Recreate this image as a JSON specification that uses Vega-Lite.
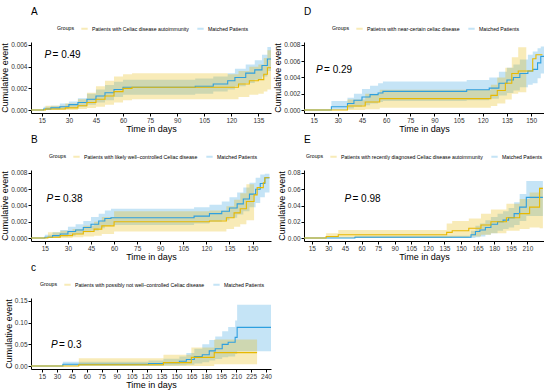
{
"$schema": "https://vega.github.io/schema/vega-lite/v6.json",
"padding": {"left": 0, "top": 7, "right": 0, "bottom": 0},
"background": "white",
"columns": 2,
"bounds": "flush",
"spacing": {"row": 57, "column": 33},
"resolve": {"scale": {"color": "independent"}, "legend": {"color": "independent"}},
"config": {
 "font": "Liberation Sans",
 "view": {"stroke": null},
 "axis": {"grid": false, "domainColor": "#000", "tickColor": "#000", "labelColor": "#333", "labelFontSize": 6.5, "titleFontSize": 9, "titleFontWeight": "normal", "titleColor": "#000", "tickSize": 3, "labelPadding": 1, "tickCount": 30, "labelOverlap": false},
 "axisY": {"titlePadding": 1},
 "axisX": {"titlePadding": 1},
 "legend": {"orient": "none", "direction": "horizontal", "titleOrient": "left", "titleFontSize": 5.2, "titleFontWeight": "normal", "labelFontSize": 5.2, "symbolType": "stroke", "symbolStrokeWidth": 2, "symbolSize": 40, "columnPadding": 4, "labelOffset": 3, "titlePadding": 5, "labelColor": "#000", "titleColor": "#000"},
 "title": {"anchor": "start", "frame": "group", "fontSize": 10, "fontWeight": "normal", "color": "#000", "offset": 7}
},
"datasets": {
 "A": [
  {"g":"M","t":0,"y":0,"lo":0,"hi":0},{"g":"M","t":14,"y":0,"lo":0,"hi":0},{"g":"M","t":16,"y":0.0001,"lo":0,"hi":0.0003},{"g":"M","t":20,"y":0.0002,"lo":0.00005,"hi":0.0004},{"g":"M","t":25,"y":0.0003,"lo":0.0001,"hi":0.0006},{"g":"M","t":30,"y":0.0005,"lo":0.0002,"hi":0.0008},{"g":"M","t":35,"y":0.0007,"lo":0.0003,"hi":0.0011},{"g":"M","t":40,"y":0.001,"lo":0.0005,"hi":0.0015},{"g":"M","t":45,"y":0.0013,"lo":0.0007,"hi":0.0019},{"g":"M","t":50,"y":0.0016,"lo":0.0009,"hi":0.0023},{"g":"M","t":55,"y":0.0019,"lo":0.0012,"hi":0.0026},{"g":"M","t":60,"y":0.0021,"lo":0.0014,"hi":0.0028},{"g":"M","t":100,"y":0.0022,"lo":0.0015,"hi":0.0029},{"g":"M","t":110,"y":0.0024,"lo":0.0017,"hi":0.0031},{"g":"M","t":118,"y":0.0027,"lo":0.0019,"hi":0.0034},{"g":"M","t":122,"y":0.003,"lo":0.0022,"hi":0.0038},{"g":"M","t":128,"y":0.0034,"lo":0.0025,"hi":0.0042},{"g":"M","t":133,"y":0.0037,"lo":0.0028,"hi":0.0046},{"g":"M","t":137,"y":0.0041,"lo":0.0031,"hi":0.0051},{"g":"M","t":140,"y":0.0047,"lo":0.0036,"hi":0.0058},{"g":"M","t":142,"y":0.0047,"lo":0.0036,"hi":0.0058},
  {"g":"P","t":0,"y":0,"lo":0,"hi":0},{"g":"P","t":16,"y":0,"lo":0,"hi":0},{"g":"P","t":17,"y":0.0001,"lo":0,"hi":0.0004},{"g":"P","t":28,"y":0.0002,"lo":0,"hi":0.0006},{"g":"P","t":35,"y":0.0004,"lo":0.0001,"hi":0.001},{"g":"P","t":40,"y":0.0007,"lo":0.0002,"hi":0.0016},{"g":"P","t":45,"y":0.001,"lo":0.0003,"hi":0.0022},{"g":"P","t":50,"y":0.0013,"lo":0.0005,"hi":0.0027},{"g":"P","t":55,"y":0.0017,"lo":0.0007,"hi":0.0031},{"g":"P","t":60,"y":0.002,"lo":0.0009,"hi":0.0033},{"g":"P","t":65,"y":0.0021,"lo":0.001,"hi":0.0034},{"g":"P","t":118,"y":0.0021,"lo":0.001,"hi":0.0033},{"g":"P","t":124,"y":0.0024,"lo":0.0012,"hi":0.0036},{"g":"P","t":130,"y":0.0027,"lo":0.0014,"hi":0.004},{"g":"P","t":135,"y":0.0028,"lo":0.0015,"hi":0.0042},{"g":"P","t":138,"y":0.0033,"lo":0.0017,"hi":0.0048},{"g":"P","t":140,"y":0.0039,"lo":0.0019,"hi":0.0055},{"g":"P","t":142,"y":0.0039,"lo":0.0019,"hi":0.0055}
 ],
 "D": [
  {"g":"M","t":0,"y":0,"lo":0,"hi":0},{"g":"M","t":26,"y":0.0004,"lo":0,"hi":0.0011},{"g":"M","t":36,"y":0.0008,"lo":0.0002,"hi":0.0015},{"g":"M","t":40,"y":0.0012,"lo":0.0004,"hi":0.002},{"g":"M","t":45,"y":0.0016,"lo":0.0006,"hi":0.0026},{"g":"M","t":50,"y":0.0019,"lo":0.0008,"hi":0.003},{"g":"M","t":55,"y":0.0021,"lo":0.001,"hi":0.0033},{"g":"M","t":58,"y":0.0023,"lo":0.0011,"hi":0.0035},{"g":"M","t":110,"y":0.0025,"lo":0.0012,"hi":0.0037},{"g":"M","t":124,"y":0.0027,"lo":0.0014,"hi":0.004},{"g":"M","t":130,"y":0.0033,"lo":0.0018,"hi":0.0047},{"g":"M","t":135,"y":0.0037,"lo":0.0021,"hi":0.0052},{"g":"M","t":139,"y":0.004,"lo":0.0024,"hi":0.0056},{"g":"M","t":143,"y":0.0045,"lo":0.0028,"hi":0.0062},{"g":"M","t":148,"y":0.0048,"lo":0.0031,"hi":0.0068},{"g":"M","t":151,"y":0.005,"lo":0.0033,"hi":0.0072},{"g":"M","t":154,"y":0.0058,"lo":0.0039,"hi":0.0076},{"g":"M","t":156,"y":0.0066,"lo":0.0045,"hi":0.0078},{"g":"M","t":158,"y":0.0066,"lo":0.0045,"hi":0.0078},
  {"g":"P","t":0,"y":0,"lo":0,"hi":0},{"g":"P","t":36,"y":0.0005,"lo":0,"hi":0.0013},{"g":"P","t":47,"y":0.001,"lo":0.0001,"hi":0.002},{"g":"P","t":56,"y":0.0014,"lo":0.0003,"hi":0.0025},{"g":"P","t":117,"y":0.0014,"lo":0.0003,"hi":0.0025},{"g":"P","t":125,"y":0.0018,"lo":0.0005,"hi":0.0031},{"g":"P","t":129,"y":0.0024,"lo":0.0008,"hi":0.004},{"g":"P","t":134,"y":0.0033,"lo":0.0013,"hi":0.0052},{"g":"P","t":138,"y":0.0045,"lo":0.002,"hi":0.0065},{"g":"P","t":142,"y":0.0048,"lo":0.0022,"hi":0.0077},{"g":"P","t":147,"y":0.0048,"lo":0.0048,"hi":0.0048},{"g":"P","t":151,"y":0.0063,"lo":0.0063,"hi":0.0063},{"g":"P","t":153,"y":0.0068,"lo":0.0068,"hi":0.0068},{"g":"P","t":157,"y":0.0068,"lo":0.0068,"hi":0.0068}
 ],
 "B": [
  {"g":"M","t":0,"y":0,"lo":0,"hi":0},{"g":"M","t":15,"y":0.0001,"lo":0,"hi":0.0004},{"g":"M","t":20,"y":0.0003,"lo":0.0001,"hi":0.0007},{"g":"M","t":25,"y":0.0005,"lo":0.0002,"hi":0.001},{"g":"M","t":30,"y":0.0008,"lo":0.0003,"hi":0.0014},{"g":"M","t":35,"y":0.001,"lo":0.0005,"hi":0.0017},{"g":"M","t":40,"y":0.0013,"lo":0.0007,"hi":0.0021},{"g":"M","t":45,"y":0.0017,"lo":0.0009,"hi":0.0026},{"g":"M","t":50,"y":0.0021,"lo":0.0012,"hi":0.003},{"g":"M","t":54,"y":0.0024,"lo":0.0015,"hi":0.0034},{"g":"M","t":58,"y":0.0025,"lo":0.0016,"hi":0.0036},{"g":"M","t":112,"y":0.0027,"lo":0.0018,"hi":0.0038},{"g":"M","t":122,"y":0.003,"lo":0.002,"hi":0.0041},{"g":"M","t":130,"y":0.0033,"lo":0.0022,"hi":0.0045},{"g":"M","t":135,"y":0.0037,"lo":0.0025,"hi":0.005},{"g":"M","t":140,"y":0.0042,"lo":0.0029,"hi":0.0056},{"g":"M","t":144,"y":0.0048,"lo":0.0033,"hi":0.0062},{"g":"M","t":148,"y":0.0054,"lo":0.0038,"hi":0.0068},{"g":"M","t":152,"y":0.006,"lo":0.0043,"hi":0.0074},{"g":"M","t":155,"y":0.0067,"lo":0.005,"hi":0.0078},{"g":"M","t":158,"y":0.0074,"lo":0.0056,"hi":0.0079},{"g":"M","t":161,"y":0.0074,"lo":0.0056,"hi":0.0079},
  {"g":"P","t":0,"y":0,"lo":0,"hi":0},{"g":"P","t":17,"y":0.0001,"lo":0,"hi":0.0007},{"g":"P","t":25,"y":0.0003,"lo":0,"hi":0.0009},{"g":"P","t":33,"y":0.0005,"lo":0.0001,"hi":0.0011},{"g":"P","t":40,"y":0.0008,"lo":0.0002,"hi":0.0015},{"g":"P","t":47,"y":0.0011,"lo":0.0003,"hi":0.002},{"g":"P","t":52,"y":0.0015,"lo":0.0005,"hi":0.0026},{"g":"P","t":60,"y":0.002,"lo":0.0008,"hi":0.0033},{"g":"P","t":122,"y":0.0021,"lo":0.0008,"hi":0.0034},{"g":"P","t":133,"y":0.0025,"lo":0.0011,"hi":0.0039},{"g":"P","t":138,"y":0.0031,"lo":0.0014,"hi":0.0047},{"g":"P","t":142,"y":0.0036,"lo":0.0017,"hi":0.0055},{"g":"P","t":146,"y":0.0045,"lo":0.0022,"hi":0.0066},{"g":"P","t":151,"y":0.0053,"lo":0.0053,"hi":0.0053},{"g":"P","t":153,"y":0.0062,"lo":0.0062,"hi":0.0062},{"g":"P","t":157,"y":0.0068,"lo":0.0068,"hi":0.0068},{"g":"P","t":158,"y":0.0074,"lo":0.0074,"hi":0.0074},{"g":"P","t":161,"y":0.0074,"lo":0.0074,"hi":0.0074}
 ],
 "E": [
  {"g":"M","t":0,"y":0,"lo":0,"hi":0},{"g":"M","t":54,"y":0.001,"lo":0,"hi":0.003},{"g":"M","t":159,"y":0.004,"lo":0,"hi":0.009},{"g":"M","t":163,"y":0.008,"lo":0.001,"hi":0.015},{"g":"M","t":167,"y":0.01,"lo":0.002,"hi":0.018},{"g":"M","t":172,"y":0.013,"lo":0.004,"hi":0.022},{"g":"M","t":177,"y":0.017,"lo":0.006,"hi":0.026},{"g":"M","t":183,"y":0.02,"lo":0.009,"hi":0.03},{"g":"M","t":188,"y":0.022,"lo":0.011,"hi":0.033},{"g":"M","t":193,"y":0.025,"lo":0.013,"hi":0.037},{"g":"M","t":198,"y":0.03,"lo":0.016,"hi":0.044},{"g":"M","t":203,"y":0.038,"lo":0.021,"hi":0.054},{"g":"M","t":209,"y":0.05,"lo":0.027,"hi":0.07},{"g":"M","t":224,"y":0.05,"lo":0.027,"hi":0.07},
  {"g":"P","t":0,"y":0,"lo":0,"hi":0},{"g":"P","t":28,"y":0.002,"lo":0,"hi":0.006},{"g":"P","t":39,"y":0.004,"lo":0,"hi":0.01},{"g":"P","t":137,"y":0.007,"lo":0,"hi":0.018},{"g":"P","t":142,"y":0.009,"lo":0.001,"hi":0.021},{"g":"P","t":157,"y":0.012,"lo":0.002,"hi":0.024},{"g":"P","t":168,"y":0.016,"lo":0.004,"hi":0.03},{"g":"P","t":177,"y":0.02,"lo":0.006,"hi":0.035},{"g":"P","t":191,"y":0.025,"lo":0.009,"hi":0.042},{"g":"P","t":203,"y":0.03,"lo":0.011,"hi":0.048},{"g":"P","t":212,"y":0.038,"lo":0.013,"hi":0.056},{"g":"P","t":221,"y":0.061,"lo":0.012,"hi":0.062},{"g":"P","t":224,"y":0.061,"lo":0.012,"hi":0.062}
 ],
 "C": [
  {"g":"M","t":0,"y":0,"lo":0,"hi":0},{"g":"M","t":36,"y":0.004,"lo":0,"hi":0.01},{"g":"M","t":122,"y":0.006,"lo":0,"hi":0.013},{"g":"M","t":137,"y":0.008,"lo":0.001,"hi":0.017},{"g":"M","t":153,"y":0.011,"lo":0.002,"hi":0.022},{"g":"M","t":160,"y":0.015,"lo":0.003,"hi":0.03},{"g":"M","t":168,"y":0.022,"lo":0.006,"hi":0.04},{"g":"M","t":176,"y":0.026,"lo":0.009,"hi":0.05},{"g":"M","t":183,"y":0.035,"lo":0.013,"hi":0.06},{"g":"M","t":189,"y":0.04,"lo":0.016,"hi":0.068},{"g":"M","t":196,"y":0.05,"lo":0.02,"hi":0.08},{"g":"M","t":202,"y":0.055,"lo":0.022,"hi":0.09},{"g":"M","t":209,"y":0.066,"lo":0.028,"hi":0.105},{"g":"M","t":211,"y":0.089,"lo":0.034,"hi":0.141},{"g":"M","t":245,"y":0.089,"lo":0.034,"hi":0.141},
  {"g":"P","t":0,"y":0,"lo":0,"hi":0},{"g":"P","t":52,"y":0.003,"lo":0,"hi":0.018},{"g":"P","t":137,"y":0.008,"lo":0,"hi":0.026},{"g":"P","t":165,"y":0.02,"lo":0,"hi":0.043},{"g":"P","t":188,"y":0.031,"lo":0.004,"hi":0.061},{"g":"P","t":231,"y":0.031,"lo":0.004,"hi":0.061}
 ]
},
"concat": [
 {
  "width": 240, "height": 71,
  "title": {"text": "A"},
  "layer": [
   {"data": {"name": "A"}, "mark": {"type": "area", "interpolate": "step-after", "opacity": 0.28, "clip": true}, "encoding": {
     "x": {"field": "t", "type": "quantitative", "scale": {"domain": [9, 142], "nice": false, "zero": false}, "axis": {"values": [15,30,45,60,75,90,105,120,135], "title": "Time in days", "labelOverlap": false, "tickCount": 30}},
     "y": {"field": "lo", "type": "quantitative", "scale": {"domain": [-0.00027, 0.00627], "nice": false}, "axis": {"values": [0,0.002,0.004,0.006], "format": ".3f", "title": "Cumulative event", "labelOverlap": false, "tickCount": 30}}, "y2": {"field": "hi"},
     "color": {"field": "g", "type": "nominal", "scale": {"domain": ["P","M"], "range": ["#E7B800","#2E9FDF"]}, "legend": {"title": "Groups", "legendX": 26, "legendY": -18, "labelExpr": "datum.label == 'P' ? 'Patients with Celiac disease autoimmunity' : 'Matched Patients'"}}}},
   {"data": {"name": "A"}, "mark": {"type": "line", "interpolate": "step-after", "strokeWidth": 1.1, "clip": true}, "encoding": {"x": {"field": "t", "type": "quantitative"}, "y": {"field": "y", "type": "quantitative"}, "color": {"field": "g", "type": "nominal"}}},
   {"data": {"values": [{}]}, "mark": {"type": "text", "fontStyle": "italic", "fontSize": 10, "align": "left", "color": "#000"}, "encoding": {"x": {"datum": 16.5}, "y": {"datum": 0.0051}, "text": {"value": "P"}}},
   {"data": {"values": [{}]}, "mark": {"type": "text", "fontSize": 10, "align": "left", "dx": 8, "color": "#000"}, "encoding": {"x": {"datum": 16.5}, "y": {"datum": 0.0051}, "text": {"value": "= 0.49"}}}
  ]
 },
 {
  "width": 240, "height": 71,
  "title": {"text": "D"},
  "layer": [
   {"data": {"name": "D"}, "mark": {"type": "area", "interpolate": "step-after", "opacity": 0.28, "clip": true}, "encoding": {
     "x": {"field": "t", "type": "quantitative", "scale": {"domain": [9, 158], "nice": false, "zero": false}, "axis": {"values": [15,30,45,60,75,90,105,120,135,150], "title": "Time in days", "labelOverlap": false, "tickCount": 30}},
     "y": {"field": "lo", "type": "quantitative", "scale": {"domain": [-0.00036, 0.00836], "nice": false}, "axis": {"values": [0,0.002,0.004,0.006,0.008], "format": ".3f", "title": "Cumulative event", "labelOverlap": false, "tickCount": 30}}, "y2": {"field": "hi"},
     "color": {"field": "g", "type": "nominal", "scale": {"domain": ["P","M"], "range": ["#E7B800","#2E9FDF"]}, "legend": {"title": "Groups", "legendX": 28, "legendY": -18, "labelExpr": "datum.label == 'P' ? 'Patietns with near-certain celiac disease' : 'Matched Patients'"}}}},
   {"data": {"name": "D"}, "mark": {"type": "line", "interpolate": "step-after", "strokeWidth": 1.1, "clip": true}, "encoding": {"x": {"field": "t", "type": "quantitative"}, "y": {"field": "y", "type": "quantitative"}, "color": {"field": "g", "type": "nominal"}}},
   {"data": {"values": [{}]}, "mark": {"type": "text", "fontStyle": "italic", "fontSize": 10, "align": "left", "color": "#000"}, "encoding": {"x": {"datum": 16.5}, "y": {"datum": 0.0049}, "text": {"value": "P"}}},
   {"data": {"values": [{}]}, "mark": {"type": "text", "fontSize": 10, "align": "left", "dx": 8, "color": "#000"}, "encoding": {"x": {"datum": 16.5}, "y": {"datum": 0.0049}, "text": {"value": "= 0.29"}}}
  ]
 },
 {
  "width": 240, "height": 71,
  "title": {"text": "B"},
  "layer": [
   {"data": {"name": "B"}, "mark": {"type": "area", "interpolate": "step-after", "opacity": 0.28, "clip": true}, "encoding": {
     "x": {"field": "t", "type": "quantitative", "scale": {"domain": [6, 162], "nice": false, "zero": false}, "axis": {"values": [15,30,45,60,75,90,105,120,135,150], "title": "Time in days", "labelOverlap": false, "tickCount": 30}},
     "y": {"field": "lo", "type": "quantitative", "scale": {"domain": [-0.00036, 0.00836], "nice": false}, "axis": {"values": [0,0.002,0.004,0.006,0.008], "format": ".3f", "title": "Cumulative event", "labelOverlap": false, "tickCount": 30}}, "y2": {"field": "hi"},
     "color": {"field": "g", "type": "nominal", "scale": {"domain": ["P","M"], "range": ["#E7B800","#2E9FDF"]}, "legend": {"title": "Groups", "legendX": 18, "legendY": -18, "labelExpr": "datum.label == 'P' ? 'Patients with likely well\u2013controlled Celiac disease' : 'Matched Patients'"}}}},
   {"data": {"name": "B"}, "mark": {"type": "line", "interpolate": "step-after", "strokeWidth": 1.1, "clip": true}, "encoding": {"x": {"field": "t", "type": "quantitative"}, "y": {"field": "y", "type": "quantitative"}, "color": {"field": "g", "type": "nominal"}}},
   {"data": {"values": [{}]}, "mark": {"type": "text", "fontStyle": "italic", "fontSize": 10, "align": "left", "color": "#000"}, "encoding": {"x": {"datum": 16}, "y": {"datum": 0.00475}, "text": {"value": "P"}}},
   {"data": {"values": [{}]}, "mark": {"type": "text", "fontSize": 10, "align": "left", "dx": 8, "color": "#000"}, "encoding": {"x": {"datum": 16}, "y": {"datum": 0.00475}, "text": {"value": "= 0.38"}}}
  ]
 },
 {
  "width": 240, "height": 71,
  "title": {"text": "E"},
  "layer": [
   {"data": {"name": "E"}, "mark": {"type": "area", "interpolate": "step-after", "opacity": 0.28, "clip": true}, "encoding": {
     "x": {"field": "t", "type": "quantitative", "scale": {"domain": [8, 225], "nice": false, "zero": false}, "axis": {"values": [15,30,45,60,75,90,105,120,135,150,165,180,195,210], "title": "Time in days", "labelOverlap": false, "tickCount": 30}},
     "y": {"field": "lo", "type": "quantitative", "scale": {"domain": [-0.0036, 0.0836], "nice": false}, "axis": {"values": [0,0.02,0.04,0.06,0.08], "format": ".2f", "title": "Cumulative event", "labelOverlap": false, "tickCount": 30}}, "y2": {"field": "hi"},
     "color": {"field": "g", "type": "nominal", "scale": {"domain": ["P","M"], "range": ["#E7B800","#2E9FDF"]}, "legend": {"title": "Groups", "legendX": 2, "legendY": -18, "labelExpr": "datum.label == 'P' ? 'Patients with recently diagnosed Celiac disease autoimmunity' : 'Matched Patients'"}}}},
   {"data": {"name": "E"}, "mark": {"type": "line", "interpolate": "step-after", "strokeWidth": 1.1, "clip": true}, "encoding": {"x": {"field": "t", "type": "quantitative"}, "y": {"field": "y", "type": "quantitative"}, "color": {"field": "g", "type": "nominal"}}},
   {"data": {"values": [{}]}, "mark": {"type": "text", "fontStyle": "italic", "fontSize": 10, "align": "left", "color": "#000"}, "encoding": {"x": {"datum": 44.6}, "y": {"datum": 0.048}, "text": {"value": "P"}}},
   {"data": {"values": [{}]}, "mark": {"type": "text", "fontSize": 10, "align": "left", "dx": 8, "color": "#000"}, "encoding": {"x": {"datum": 44.6}, "y": {"datum": 0.048}, "text": {"value": "= 0.98"}}}
  ]
 },
 {
  "width": 240, "height": 71,
  "title": {"text": "c"},
  "layer": [
   {"data": {"name": "C"}, "mark": {"type": "area", "interpolate": "step-after", "opacity": 0.28, "clip": true}, "encoding": {
     "x": {"field": "t", "type": "quantitative", "scale": {"domain": [4, 245], "nice": false, "zero": false}, "axis": {"values": [15,30,45,60,75,90,105,120,135,150,165,180,195,210,225,240], "title": "Time in days", "labelOverlap": false, "tickCount": 30}},
     "y": {"field": "lo", "type": "quantitative", "scale": {"domain": [-0.0068, 0.1568], "nice": false}, "axis": {"values": [0,0.05,0.1,0.15], "format": ".2f", "title": "Cumulative event", "labelOverlap": false, "tickCount": 30}}, "y2": {"field": "hi"},
     "color": {"field": "g", "type": "nominal", "scale": {"domain": ["P","M"], "range": ["#E7B800","#2E9FDF"]}, "legend": {"title": "Groups", "legendX": 9, "legendY": -18, "labelExpr": "datum.label == 'P' ? 'Patients with possibly not well\u2013controlled Celiac disease' : 'Matched Patients'"}}}},
   {"data": {"name": "C"}, "mark": {"type": "line", "interpolate": "step-after", "strokeWidth": 1.1, "clip": true}, "encoding": {"x": {"field": "t", "type": "quantitative"}, "y": {"field": "y", "type": "quantitative"}, "color": {"field": "g", "type": "nominal"}}},
   {"data": {"values": [{}]}, "mark": {"type": "text", "fontStyle": "italic", "fontSize": 10, "align": "left", "color": "#000"}, "encoding": {"x": {"datum": 24}, "y": {"datum": 0.0495}, "text": {"value": "P"}}},
   {"data": {"values": [{}]}, "mark": {"type": "text", "fontSize": 10, "align": "left", "dx": 8, "color": "#000"}, "encoding": {"x": {"datum": 24}, "y": {"datum": 0.0495}, "text": {"value": "= 0.3"}}}
  ]
 }
]
}
